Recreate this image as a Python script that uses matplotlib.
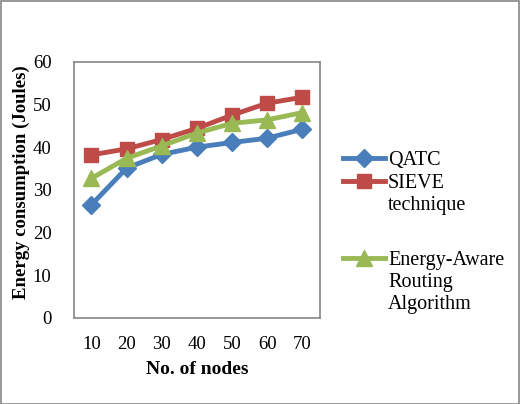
import matplotlib.pyplot as plt
from matplotlib.lines import Line2D

plt.rcParams['font.family'] = ['Liberation Serif', 'DejaVu Serif']

nodes = ['10', '20', '30', '40', '50', '60', '70']
qatc = [26.5, 35.1, 38.3, 40.0, 41.1, 42.1, 44.2]
sieve = [38.2, 39.6, 41.8, 44.4, 47.5, 50.3, 51.7]
eara = [32.7, 37.4, 40.3, 43.3, 45.6, 46.4, 48.1]

series = [
    ('QATC', qatc, '#4a7ebb', 'D', 9),
    ('SIEVE\ntechnique', sieve, '#be4b48', 's', 10),
    ('Energy-Aware\nRouting\nAlgorithm', eara, '#98b954', '^', 11),
]

fig = plt.figure(figsize=(5.2, 4.04), dpi=100)
ax = fig.add_axes([0.142, 0.213, 0.473, 0.634])

x = range(len(nodes))
for name, vals, col, mk, ms in series:
    ax.plot(x, vals, color=col, marker=mk, markersize=ms, linewidth=3.5)

ax.set_xlim(-0.5, len(nodes) - 0.5)
ax.set_ylim(0, 60)
ax.set_yticks(range(0, 61, 10))
ax.set_xticks(list(x))
ax.set_xticklabels(nodes)
ax.tick_params(length=0, labelsize=13.5)
ax.tick_params(axis='x', pad=13)
ax.tick_params(axis='y', pad=16)
for s in ax.spines.values():
    s.set_color('#868686')
    s.set_linewidth(1.2)
ax.set_xlabel('No. of nodes', fontsize=14, fontweight='bold')
ax.set_ylabel('Energy consumption (Joules)', fontsize=13.5, fontweight='bold')
ax.xaxis.set_label_coords(0.5, -(370 - 318) / 256)
ax.xaxis.label.set_va('center')
ax.yaxis.set_label_coords(-(74 - 21) / 246, (318 - 182) / 256)
ax.yaxis.label.set_va('center')

# legend drawn by hand to mimic the Excel layout
leg_y = [158, 181, 258]
for (name, vals, col, mk, ms), py in zip(series, leg_y):
    fy = 1 - py / 404
    fig.add_artist(Line2D([343 / 520, 385 / 520], [fy, fy], color=col, linewidth=3.5,
                          transform=fig.transFigure))
    fig.add_artist(Line2D([364 / 520], [fy], color=col, marker=mk, markersize=ms,
                          transform=fig.transFigure))
    fig.text(388 / 520, fy + 7 / 404, name, fontsize=14.5, va='top', ha='left',
             linespacing=1.2)

fig.add_artist(plt.Rectangle((0.001, 0.001), 0.997, 0.997, fill=False,
                             edgecolor='#868686', linewidth=1.2, transform=fig.transFigure))

fig.savefig('out.png', dpi=100)
